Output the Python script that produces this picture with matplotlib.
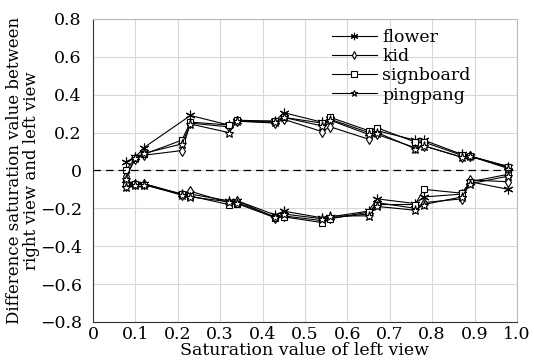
import matplotlib
matplotlib.use("Agg")
import matplotlib.pyplot as plt

# Upper branch (left -> right) then lower branch (right -> left), closed loops
flower_x = [0.077, 0.10, 0.12, 0.23, 0.32, 0.34, 0.43, 0.45, 0.54, 0.56, 0.65, 0.67, 0.76, 0.78, 0.87, 0.89, 0.98,
            0.98, 0.89, 0.87, 0.78, 0.76, 0.67, 0.65, 0.56, 0.54, 0.45, 0.43, 0.34, 0.32, 0.23, 0.21, 0.12, 0.10, 0.077]
flower_y = [0.045, 0.07, 0.12, 0.29, 0.24, 0.26, 0.26, 0.305, 0.255, 0.27, 0.20, 0.21, 0.16, 0.16, 0.085, 0.075, 0.02,
            -0.10, -0.06, -0.125, -0.14, -0.175, -0.15, -0.215, -0.245, -0.25, -0.215, -0.235, -0.16, -0.16, -0.125, -0.125, -0.07, -0.07, -0.07]

kid_x = [0.077, 0.10, 0.12, 0.21, 0.23, 0.32, 0.34, 0.43, 0.45, 0.54, 0.56, 0.65, 0.67, 0.76, 0.78, 0.87, 0.89, 0.98,
         0.98, 0.89, 0.87, 0.78, 0.76, 0.67, 0.65, 0.56, 0.54, 0.45, 0.43, 0.34, 0.32, 0.23, 0.21, 0.12, 0.10, 0.077]
kid_y = [-0.03, 0.06, 0.08, 0.105, 0.25, 0.23, 0.26, 0.25, 0.27, 0.205, 0.23, 0.165, 0.19, 0.12, 0.13, 0.07, 0.075, 0.015,
         -0.06, -0.05, -0.15, -0.17, -0.20, -0.17, -0.23, -0.25, -0.265, -0.24, -0.25, -0.16, -0.17, -0.11, -0.13, -0.07, -0.07, -0.08]

signboard_x = kid_x
signboard_y = [0.0, 0.065, 0.085, 0.16, 0.255, 0.24, 0.265, 0.26, 0.28, 0.25, 0.28, 0.21, 0.225, 0.15, 0.15, 0.08, 0.075, 0.02,
               -0.02, -0.06, -0.12, -0.10, -0.18, -0.18, -0.22, -0.255, -0.275, -0.245, -0.25, -0.175, -0.18, -0.135, -0.125, -0.075, -0.07, -0.065]

pingpang_x = kid_x
pingpang_y = [-0.045, 0.065, 0.09, 0.14, 0.245, 0.20, 0.26, 0.255, 0.28, 0.235, 0.265, 0.19, 0.20, 0.115, 0.13, 0.07, 0.075, 0.01,
              -0.03, -0.07, -0.14, -0.18, -0.21, -0.19, -0.24, -0.24, -0.255, -0.23, -0.245, -0.17, -0.165, -0.14, -0.13, -0.075, -0.075, -0.085]

series_names = ["flower", "kid", "signboard", "pingpang"]
x_ticks = [0, 0.1, 0.2, 0.3, 0.4, 0.5, 0.6, 0.7, 0.8, 0.9, 1.0]
x_tick_labels = ["0", "0.1", "0.2", "0.3", "0.4", "0.5", "0.6", "0.7", "0.8", "0.9", "1.0"]
y_ticks = [-0.8, -0.6, -0.4, -0.2, 0, 0.2, 0.4, 0.6, 0.8]
y_tick_labels = ["\u22120.8", "\u22120.6", "\u22120.4", "\u22120.2", "0", "0.2", "0.4", "0.6", "0.8"]

plt.rcParams["font.family"] = ["DejaVu Serif"]

fig = plt.figure(figsize=(5.34, 3.63), dpi=100)
ax = fig.add_axes([0.174, 0.113, 0.794, 0.835])

styles = [
    dict(marker=(6, 2, 0), markersize=7, markeredgewidth=0.8),
    dict(marker="d", markersize=5.5, markerfacecolor="white", markeredgewidth=0.8),
    dict(marker="s", markersize=5, markerfacecolor="white", markeredgewidth=0.8),
    dict(marker="*", markersize=6.5, markerfacecolor="white", markeredgewidth=0.8),
]
data = [(flower_x, flower_y), (kid_x, kid_y), (signboard_x, signboard_y), (pingpang_x, pingpang_y)]
for (xs, ys), name, st in zip(data, series_names, styles):
    ax.plot(xs, ys, color="black", linewidth=0.8, markeredgecolor="black", label=name, **st)

ax.axhline(0, color="black", linestyle=(0, (6, 4)), linewidth=0.9)

ax.set_xlim(0, 1)
ax.set_ylim(-0.8, 0.8)
ax.set_xticks(x_ticks)
ax.set_xticklabels(x_tick_labels)
ax.set_yticks(y_ticks)
ax.set_yticklabels(y_tick_labels)
ax.tick_params(length=0, labelsize=12.5)
ax.tick_params(axis="y", pad=8)
ax.tick_params(axis="x", pad=3)
ax.grid(True, color="#d8d8d8", linewidth=0.8)
ax.set_axisbelow(True)
for side, s in ax.spines.items():
    s.set_linewidth(0.8)
    s.set_color("#333333" if side in ("left", "bottom") else "#bbbbbb")

ax.set_xlabel("Saturation value of left view", fontsize=12.5, labelpad=-1)
ax.set_ylabel("Difference saturation value between\nright view and left view", fontsize=12, labelpad=0, linespacing=0.95)

leg = ax.legend(loc="upper right", bbox_to_anchor=(0.915, 1.0), frameon=False, fontsize=12.5,
                handlelength=2.6, handletextpad=0.3, labelspacing=0.12, borderaxespad=0.2, markerscale=0.75)

fig.savefig("out.png", dpi=100)
